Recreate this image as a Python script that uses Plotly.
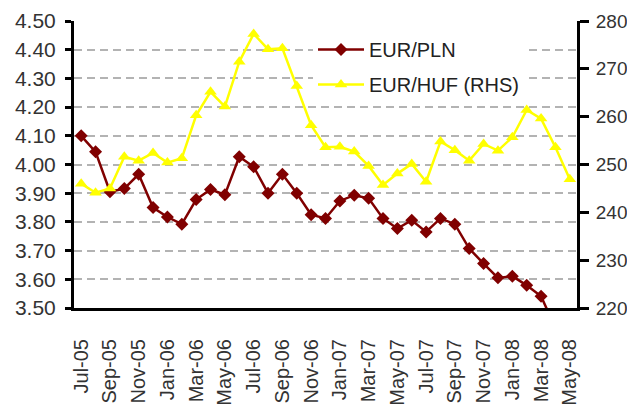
import plotly.graph_objects as go

months = ["Jul-05", "Aug-05", "Sep-05", "Oct-05", "Nov-05", "Dec-05",
          "Jan-06", "Feb-06", "Mar-06", "Apr-06", "May-06", "Jun-06",
          "Jul-06", "Aug-06", "Sep-06", "Oct-06", "Nov-06", "Dec-06",
          "Jan-07", "Feb-07", "Mar-07", "Apr-07", "May-07", "Jun-07",
          "Jul-07", "Aug-07", "Sep-07", "Oct-07", "Nov-07", "Dec-07",
          "Jan-08", "Feb-08", "Mar-08", "Apr-08", "May-08"]

eur_pln = [4.10, 4.044, 3.905, 3.916, 3.966, 3.85, 3.817, 3.792, 3.878, 3.913,
           3.895, 4.027, 3.992, 3.90, 3.966, 3.90, 3.825, 3.812, 3.873, 3.893,
           3.882, 3.812, 3.777, 3.806, 3.765, 3.812, 3.792, 3.707, 3.655, 3.605,
           3.611, 3.579, 3.541, 3.43, None]

eur_huf = [246.0, 244.1, 245.0, 251.6, 250.8, 252.4, 250.4, 251.3, 260.3, 265.2,
           262.1, 271.5, 277.3, 274.1, 274.3, 266.4, 258.2, 253.6, 253.7, 252.7,
           249.7, 245.7, 248.1, 250.1, 246.4, 254.8, 253.0, 250.8, 254.3, 252.9,
           255.7, 261.4, 259.6, 253.6, 246.9]

left_ticks = [3.50, 3.60, 3.70, 3.80, 3.90, 4.00, 4.10, 4.20, 4.30, 4.40, 4.50]
right_ticks = [220, 230, 240, 250, 260, 270, 280]
label_months = months[::2]

FONT = "Liberation Sans, Arial, sans-serif"
TXT = "#333333"

fig = go.Figure()
fig.add_trace(go.Scatter(
    x=months, y=eur_pln, name="EUR/PLN", mode="lines+markers",
    line=dict(color="#800000", width=2.5),
    marker=dict(symbol="diamond", size=10, color="#800000"),
    legendgroup="a", xaxis="x", yaxis="y"))
fig.add_trace(go.Scatter(
    x=months, y=eur_huf, name="EUR/HUF (RHS)", mode="lines+markers",
    line=dict(color="#FFFF00", width=2.5),
    marker=dict(symbol="triangle-up", size=11, color="#FFFF00"),
    legendgroup="b", xaxis="x", yaxis="y2"))

n = len(months)
boundary_ticks = [i - 0.5 for i in range(0, n, 2)]

fig.update_layout(
    width=627, height=407,
    margin=dict(l=74, r=50, t=21, b=99, pad=0, autoexpand=False),
    paper_bgcolor="white", plot_bgcolor="white",
    font=dict(family=FONT, color=TXT, size=20),
    showlegend=True,
    legend=dict(x=(313 - 74) / 503, y=0.969, xanchor="left", yanchor="top",
                bgcolor="white", borderwidth=0, itemwidth=46,
                font=dict(family=FONT, size=20, color="#222222"),
                tracegroupgap=6, traceorder="grouped"),
    xaxis=dict(type="category", categoryorder="array", categoryarray=months,
               range=[-0.5, n - 0.5], tickmode="array", tickvals=label_months,
               ticktext=label_months, tickangle=-90, ticks="",
               ticklabelstandoff=20, automargin=False,
               ticklabeloverflow="allow",
               showline=True, linecolor="black", linewidth=3,
               showgrid=False, zeroline=False,
               tickfont=dict(family=FONT, size=20, color=TXT)),
    xaxis2=dict(overlaying="x", anchor="y", side="bottom", type="linear",
                range=[-0.5, n - 0.5], tickmode="array", tickvals=boundary_ticks,
                ticks="outside", ticklen=10, tickwidth=3, tickcolor="black",
                showticklabels=False, showline=False, showgrid=False,
                zeroline=False, automargin=False),
    yaxis=dict(range=[3.5, 4.5], tickmode="array", tickvals=left_ticks,
               tickformat=".2f", ticks="outside", ticklen=6, tickwidth=3,
               tickcolor="black", ticklabelstandoff=5, automargin=False,
               ticklabeloverflow="allow",
               showline=True, linecolor="black", linewidth=3,
               showgrid=True, gridcolor="#b3b3b3", gridwidth=2,
               griddash="8px,5px", zeroline=False,
               tickfont=dict(family=FONT, size=21, color=TXT)),
    yaxis2=dict(overlaying="y", side="right", anchor="x", range=[220, 280],
                tickmode="array", tickvals=right_ticks, ticks="outside",
                ticklen=9, tickwidth=3, tickcolor="black",
                ticklabelstandoff=3, automargin=False,
                ticklabeloverflow="allow",
                showline=True, linecolor="black", linewidth=3,
                showgrid=False, zeroline=False,
                tickfont=dict(family=FONT, size=19, color=TXT)),
    yaxis3=dict(overlaying="y", side="right", anchor="x", range=[220, 280],
                tickmode="array", tickvals=right_ticks, ticks="inside",
                ticklen=8, tickwidth=3, tickcolor="black",
                showticklabels=False, showline=False, showgrid=False,
                zeroline=False, automargin=False),
)

fig.write_html("out.html", config={"displayModeBar": False},
               post_script="document.body.style.margin='0';")
